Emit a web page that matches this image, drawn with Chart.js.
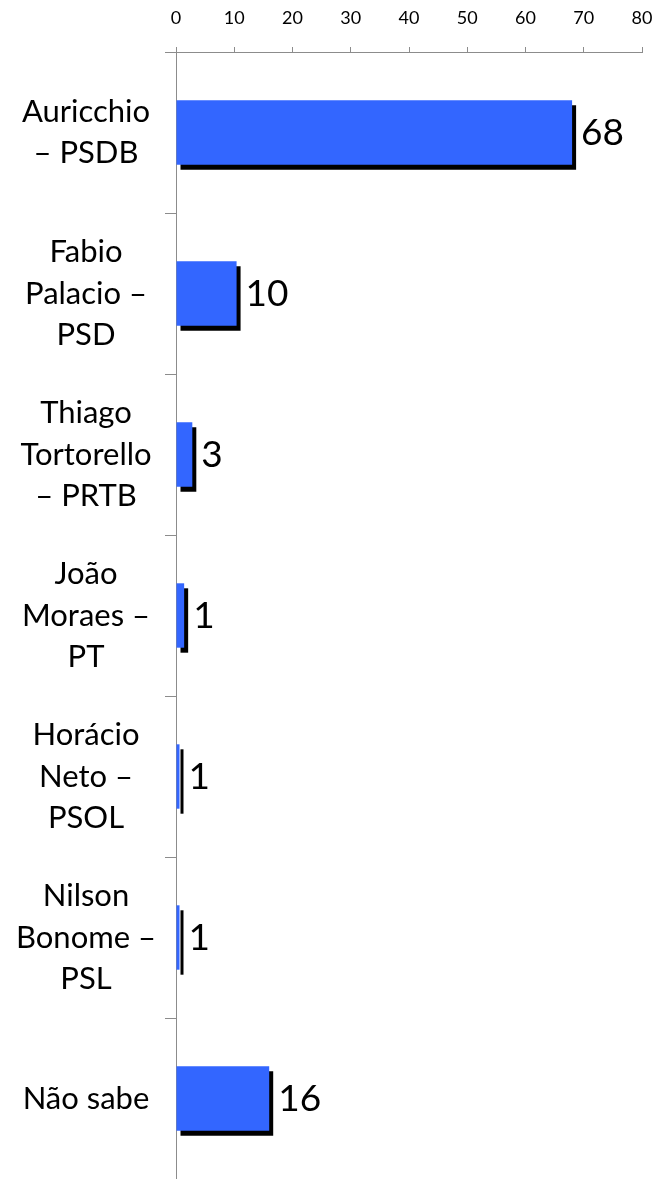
<!DOCTYPE html>
<html>
<head>
<meta charset="utf-8">
<script src="https://cdn.jsdelivr.net/npm/chart.js@4/dist/chart.umd.min.js"></script>
<style>
  html, body { margin: 0; padding: 0; background: #ffffff; overflow: hidden; }
  canvas { display: block; }
</style>
</head>
<body>
<canvas id="c" width="654" height="1179" style="width:654px;height:1179px"></canvas>
<script>
const categories = [
  ["Auricchio", "– PSDB"],
  ["Fabio", "Palacio –", "PSD"],
  ["Thiago", "Tortorello", "– PRTB"],
  ["João", "Moraes –", "PT"],
  ["Horácio", "Neto –", "PSOL"],
  ["Nilson", "Bonome –", "PSL"],
  "Não sabe"
];
const values = [68, 10.4, 2.8, 1.4, 0.6, 0.6, 16];
const valueLabels = ["68", "10", "3", "1", "1", "1", "16"];
const xMin = 0, xMax = 80, xStep = 10;

const FONT = "Lato, 'Open Sans', sans-serif";
const catFontSize = 31;

const mctx = document.createElement('canvas').getContext('2d');
mctx.font = catFontSize + "px " + FONT;
let widest = 0;
categories.forEach(c => [].concat(c).forEach(l => { widest = Math.max(widest, mctx.measureText(l).width); }));
const labelCenter = 86, axisX = 176, yTickLen = 11;
const yPad = Math.max(0, axisX - yTickLen - labelCenter - widest / 2);

const shadowAndLabels = {
  id: 'shadowAndLabels',
  beforeDatasetsDraw(chart) {
    const c = chart.ctx;
    c.save();
    c.shadowColor = '#000000';
    c.shadowOffsetX = 4;
    c.shadowOffsetY = 5;
    c.shadowBlur = 0;
  },
  afterDatasetsDraw(chart) {
    const c = chart.ctx;
    c.restore();
    const meta = chart.getDatasetMeta(0);
    c.save();
    c.fillStyle = '#000000';
    c.font = "37px " + FONT;
    c.textAlign = 'left';
    c.textBaseline = 'middle';
    meta.data.forEach((bar, i) => {
      c.fillText(valueLabels[i], bar.x + 9, bar.y + 1);
    });
    c.restore();
  }
};

new Chart(document.getElementById('c'), {
  type: 'bar',
  data: {
    labels: categories,
    datasets: [{
      data: values,
      backgroundColor: '#3366FF',
      borderWidth: 0,
      barPercentage: 0.4,
      categoryPercentage: 1.0
    }]
  },
  options: {
    indexAxis: 'y',
    responsive: false,
    devicePixelRatio: 1,
    animation: false,
    layout: { padding: { top: 0, right: 12, bottom: 0, left: 0 } },
    plugins: { legend: { display: false }, tooltip: { enabled: false } },
    scales: {
      x: {
        position: 'top',
        min: xMin, max: xMax,
        ticks: { stepSize: xStep, color: '#000', padding: 18, font: { family: FONT, size: 18 } },
        grid: { drawOnChartArea: false, drawTicks: true, tickLength: 5, color: '#8c8c8c' },
        border: { display: true, color: '#8c8c8c', width: 1 },
        afterFit(s) { s.height = 52; s.paddingLeft = 0; s.paddingRight = 0; }
      },
      y: {
        ticks: { color: '#000', crossAlign: 'center', padding: yPad, font: { family: FONT, size: catFontSize, lineHeight: 1.35 } },
        grid: { drawOnChartArea: false, drawTicks: true, tickLength: yTickLen, color: '#8c8c8c', offset: true },
        border: { display: true, color: '#8c8c8c', width: 1 },
        afterFit(s) { s.width = axisX; s.paddingTop = 0; s.paddingBottom = 0; }
      }
    }
  },
  plugins: [shadowAndLabels]
});
</script>
</body>
</html>
